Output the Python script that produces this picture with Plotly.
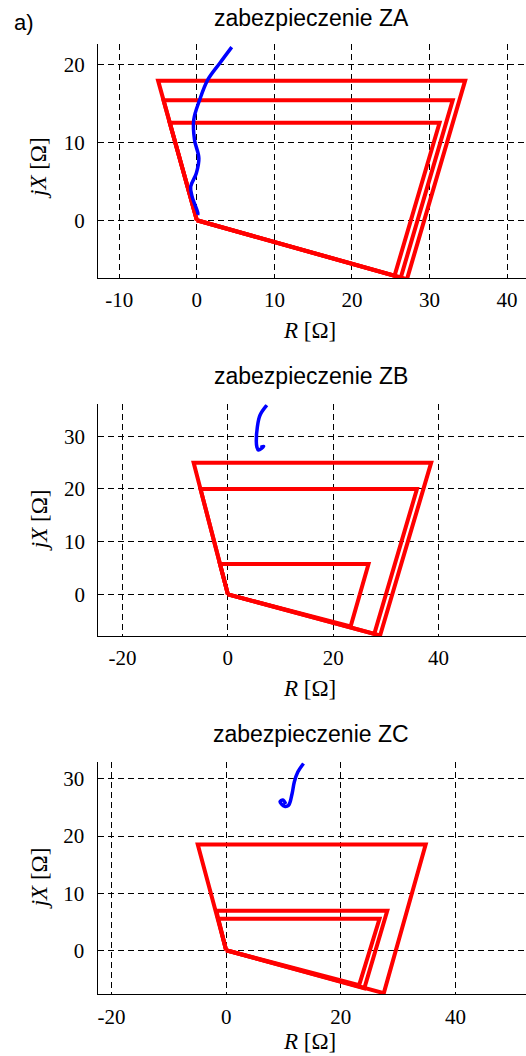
import plotly.graph_objects as go

# ---------------- data ----------------
titles = ["zabezpieczenie ZA", "zabezpieczenie ZB", "zabezpieczenie ZC"]

# ZA zones (closed polygons: origin -> top-left -> top-right -> bottom -> origin)
za_zone1_R = [0, -3.5, 31.3, 25.5, 0]
za_zone1_X = [0, 12.5, 12.5, -7.1, 0]
za_zone2_R = [0, -4.3, 33.0, 26.3, 0]
za_zone2_X = [0, 15.4, 15.4, -7.35, 0]
za_zone3_R = [0, -5.0, 34.6, 27.1, 0]
za_zone3_X = [0, 17.9, 17.9, -7.55, 0]
za_traj_R = [4.5, 3.0, 1.4, 0.35, -0.4, -0.3, 0.26, -0.08, -0.8, -0.6, 0.13, 0.1]
za_traj_X = [22.2, 20.2, 18.0, 15.4, 12.9, 10.3, 7.95, 6.0, 4.3, 3.0, 0.9, 0.7]

# ZB zones
zb_zone1_R = [0, -1.5, 26.7, 23.3, 0]
zb_zone1_X = [0, 5.75, 5.75, -6.1, 0]
zb_zone2_R = [0, -5.2, 35.9, 27.8, 0]
zb_zone2_X = [0, 20.0, 20.0, -7.5, 0]
zb_zone3_R = [0, -6.5, 38.6, 28.9, 0]
zb_zone3_X = [0, 25.0, 25.0, -7.8, 0]
zb_traj_R = [7.4, 6.1, 5.6, 5.4, 5.5, 5.8, 6.8, 6.2]
zb_traj_X = [35.9, 34.0, 31.8, 29.0, 28.0, 27.4, 28.1, 27.9]

# ZC zones
zc_zone1_R = [0, -1.4, 26.75, 23.2, 0]
zc_zone1_X = [0, 5.5, 5.5, -6.1, 0]
zc_zone2_R = [0, -1.7, 28.1, 24.1, 0]
zc_zone2_X = [0, 6.9, 6.9, -6.65, 0]
zc_zone3_R = [0, -4.95, 34.8, 27.5, 0]
zc_zone3_X = [0, 18.5, 18.5, -7.5, 0]
zc_traj_R = [13.5, 12.5, 11.9, 11.5, 10.9, 10.2, 9.4, 9.9, 10.4]
zc_traj_X = [32.7, 31.2, 29.5, 27.4, 25.4, 25.2, 26.0, 26.3, 25.6]

# axis settings
x_ranges = [[-12.75, 42.45], [-24.6, 56.6], [-22.4, 52.3]]
y_ranges = [[-7.4, 22.6], [-7.9, 36.07], [-7.7, 32.9]]
x_ticks = [[-10, 0, 10, 20, 30, 40], [-20, 0, 20, 40, 60], [-20, 0, 20, 40, 60]]
y_ticks = [[0, 10, 20], [0, 10, 20, 30], [0, 10, 20, 30]]

# ---------------- figure ----------------
W, H = 526, 1056
px_boxes = [  # left, top, bottom (pixels)
    (98.0, 44.0, 278.0),
    (98.3, 404.3, 636.0),
    (97.7, 762.3, 994.3),
]
title_y = [18, 376, 734]
xlabel_y = [330, 688, 1041]

fig = go.Figure()
RED = "#ff0000"
BLUE = "#0000ff"

zones = [
    [(za_zone1_R, za_zone1_X), (za_zone2_R, za_zone2_X), (za_zone3_R, za_zone3_X)],
    [(zb_zone1_R, zb_zone1_X), (zb_zone2_R, zb_zone2_X), (zb_zone3_R, zb_zone3_X)],
    [(zc_zone1_R, zc_zone1_X), (zc_zone2_R, zc_zone2_X), (zc_zone3_R, zc_zone3_X)],
]
trajs = [(za_traj_R, za_traj_X), (zb_traj_R, zb_traj_X), (zc_traj_R, zc_traj_X)]

layout = dict(
    width=W, height=H, margin=dict(l=0, r=0, t=0, b=0),
    paper_bgcolor="white", plot_bgcolor="white", showlegend=False,
    font=dict(family="Liberation Serif", color="black", size=21),
)
annotations = []
for i in range(3):
    xa = "x" if i == 0 else f"x{i+1}"
    ya = "y" if i == 0 else f"y{i+1}"
    for R, X in zones[i]:
        fig.add_trace(go.Scatter(x=R, y=X, mode="lines", xaxis=xa, yaxis=ya,
                                 line=dict(color=RED, width=4), hoverinfo="skip"))
    fig.add_trace(go.Scatter(x=trajs[i][0], y=trajs[i][1], mode="lines", xaxis=xa, yaxis=ya,
                             line=dict(color=BLUE, width=3.5, shape="spline"), hoverinfo="skip"))
    left, top, bottom = px_boxes[i]
    xkey = "xaxis" if i == 0 else f"xaxis{i+1}"
    ykey = "yaxis" if i == 0 else f"yaxis{i+1}"
    common = dict(showgrid=True, gridcolor="black", gridwidth=1, griddash="6px,4px",
                  zeroline=False, showline=True, linecolor="black", linewidth=1.3,
                  ticks="", tickfont=dict(family="Liberation Serif", size=21, color="black"),
                  fixedrange=True)
    layout[xkey] = dict(common, domain=[left / W, 1.0], range=x_ranges[i],
                        tickvals=x_ticks[i], ticktext=[str(v) for v in x_ticks[i]],
                        anchor=ya, ticklabelstandoff=3)
    layout[ykey] = dict(common, domain=[1 - bottom / H, 1 - top / H], range=y_ranges[i],
                        tickvals=y_ticks[i], ticktext=[str(v) for v in y_ticks[i]],
                        anchor=xa, ticklabelstandoff=8)
    annotations.append(dict(text=titles[i], x=311 / W, y=1 - title_y[i] / H, xref="paper", yref="paper",
                            showarrow=False, xanchor="center", yanchor="middle",
                            font=dict(family="Liberation Sans", size=23, color="black")))
    annotations.append(dict(text="<i>R</i> [Ω]", x=309 / W, y=1 - xlabel_y[i] / H, xref="paper", yref="paper",
                            showarrow=False, xanchor="center", yanchor="middle",
                            font=dict(family="Liberation Serif", size=23, color="black")))
    mid = (top + bottom) / 2 + (7 if i == 0 else 0)
    annotations.append(dict(text="<i>jX</i> [Ω]", x=39 / W, y=1 - mid / H, xref="paper", yref="paper",
                            showarrow=False, xanchor="center", yanchor="middle", textangle=-90,
                            font=dict(family="Liberation Serif", size=23, color="black")))

annotations.append(dict(text="a)", x=12 / W, y=1 - 22 / H, xref="paper", yref="paper",
                        showarrow=False, xanchor="left", yanchor="middle",
                        font=dict(family="Liberation Sans", size=22, color="black")))
layout["annotations"] = annotations
fig.update_layout(**layout)
fig.write_html("out.html")
